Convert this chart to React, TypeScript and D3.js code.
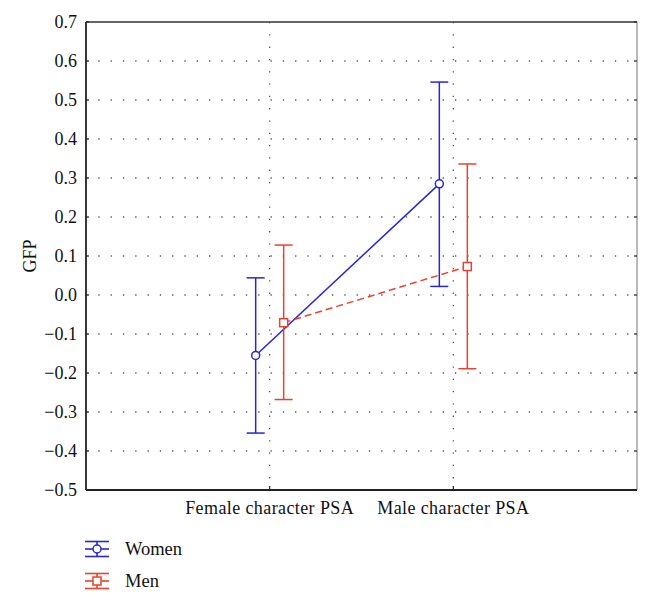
import React from "react";
import * as d3 from "d3";

const categories = ["Female character PSA", "Male character PSA"];
const seriesNames = ["Women", "Men"];
const womenMean = [-0.155, 0.285];
const womenUpper = [0.044, 0.546];
const womenLower = [-0.354, 0.022];
const menMean = [-0.071, 0.073];
const menUpper = [0.128, 0.336];
const menLower = [-0.268, -0.189];
const yTicks = [-0.5, -0.4, -0.3, -0.2, -0.1, 0.0, 0.1, 0.2, 0.3, 0.4, 0.5, 0.6, 0.7];

const W = 651, H = 604;
const left = 86, right = 637, top = 22, bottom = 490;
const BLUE = "#2626d6";
const RED = "#e8432e";
const FONT = "'Liberation Serif', 'DejaVu Serif', serif";

export default function App() {
  const x = d3.scaleLinear().domain([0, 3]).range([left, right]);
  const y = d3.scaleLinear().domain([-0.5, 0.7]).range([bottom, top]);
  const fmt = (v: number) => (v < 0 ? "\u2212" : "") + Math.abs(v).toFixed(1);

  const series = [
    { name: seriesNames[0], mean: womenMean, up: womenUpper, lo: womenLower, color: BLUE, off: -14, dash: undefined, marker: "circle" },
    { name: seriesNames[1], mean: menMean, up: menUpper, lo: menLower, color: RED, off: 14, dash: "7 4", marker: "square" },
  ];
  const line = d3.line<[number, number]>().x((d) => d[0]).y((d) => d[1]);

  return (
    <svg width={W} height={H} style={{ position: "absolute", left: 0, top: 0, background: "#fff" }}>
      {/* grid */}
      {yTicks.slice(1, -1).map((t) => (
        <line key={"g" + t} x1={left} x2={right} y1={y(t)} y2={y(t)} stroke="#555" strokeWidth={1.3} strokeDasharray="1.3 11" />
      ))}
      {categories.map((c, i) => (
        <line key={"v" + c} x1={x(i + 1)} x2={x(i + 1)} y1={top} y2={bottom} stroke="#555" strokeWidth={1.3} strokeDasharray="1.3 11" />
      ))}
      {/* frame */}
      <line x1={left} x2={right} y1={top} y2={top} stroke="#333" strokeWidth={1.5} />
      <line x1={left} x2={right} y1={bottom} y2={bottom} stroke="#222" strokeWidth={1.8} />
      <line x1={left} x2={left} y1={top} y2={bottom} stroke="#222" strokeWidth={1.8} />
      <line x1={right} x2={right} y1={top} y2={bottom} stroke="#777" strokeWidth={1} />
      {/* ticks */}
      {yTicks.map((t) => (
        <g key={"t" + t}>
          <line x1={left} x2={left + 3} y1={y(t)} y2={y(t)} stroke="#222" strokeWidth={1.2} />
          <line x1={right - 3} x2={right} y1={y(t)} y2={y(t)} stroke="#222" strokeWidth={1.2} />
          <text x={77} y={y(t)} dy="0.35em" textAnchor="end" fontFamily={FONT} fontSize={18} fill="#111">{fmt(t)}</text>
        </g>
      ))}
      {categories.map((c, i) => (
        <g key={"c" + c}>
          <line x1={x(i + 1)} x2={x(i + 1)} y1={bottom} y2={bottom - 4} stroke="#222" strokeWidth={1.2} />
          <text x={x(i + 1)} y={514} textAnchor="middle" fontFamily={FONT} fontSize={18} letterSpacing={0.4} fill="#111">{c}</text>
        </g>
      ))}
      <text transform={`translate(36,${(top + bottom) / 2}) rotate(-90)`} textAnchor="middle" fontFamily={FONT} fontSize={18} fill="#111">GFP</text>
      {/* series */}
      {series.map((s) => {
        const pts: [number, number][] = s.mean.map((m, i) => [x(i + 1) + s.off, y(m)]);
        return (
          <g key={s.name}>
            <path d={line(pts) || ""} fill="none" stroke={s.color} strokeWidth={1.5} strokeDasharray={s.dash} />
            {s.mean.map((m, i) => {
              const cx = x(i + 1) + s.off;
              return (
                <g key={i}>
                  <line x1={cx} x2={cx} y1={y(s.up[i])} y2={y(s.lo[i])} stroke={s.color} strokeWidth={1.5} />
                  <line x1={cx - 9} x2={cx + 9} y1={y(s.up[i])} y2={y(s.up[i])} stroke={s.color} strokeWidth={1.5} />
                  <line x1={cx - 9} x2={cx + 9} y1={y(s.lo[i])} y2={y(s.lo[i])} stroke={s.color} strokeWidth={1.5} />
                  {s.marker === "circle" ? (
                    <circle cx={cx} cy={y(m)} r={4} fill="#fff" stroke={s.color} strokeWidth={1.5} />
                  ) : (
                    <rect x={cx - 4} y={y(m) - 4} width={8} height={8} fill="#fff" stroke={s.color} strokeWidth={1.5} />
                  )}
                </g>
              );
            })}
          </g>
        );
      })}
      {/* legend */}
      {series.map((s, i) => {
        const cy = 549 + i * 32;
        const cx = 97;
        return (
          <g key={"l" + s.name}>
            <line x1={cx - 12} x2={cx + 12} y1={cy - 7.5} y2={cy - 7.5} stroke={s.color} strokeWidth={1.6} />
            <line x1={cx - 12} x2={cx + 12} y1={cy + 7.5} y2={cy + 7.5} stroke={s.color} strokeWidth={1.6} />
            <line x1={cx - 12} x2={cx + 12} y1={cy} y2={cy} stroke={s.color} strokeWidth={1.6} />
            <line x1={cx} x2={cx} y1={cy - 7.5} y2={cy + 7.5} stroke={s.color} strokeWidth={1.6} />
            {s.marker === "circle" ? (
              <circle cx={cx} cy={cy} r={4} fill="#fff" stroke={s.color} strokeWidth={1.5} />
            ) : (
              <rect x={cx - 4} y={cy - 4} width={8} height={8} fill="#fff" stroke={s.color} strokeWidth={1.5} />
            )}
            <text x={125} y={cy} dy="0.35em" fontFamily={FONT} fontSize={18.5} fill="#111">{s.name}</text>
          </g>
        );
      })}
    </svg>
  );
}
